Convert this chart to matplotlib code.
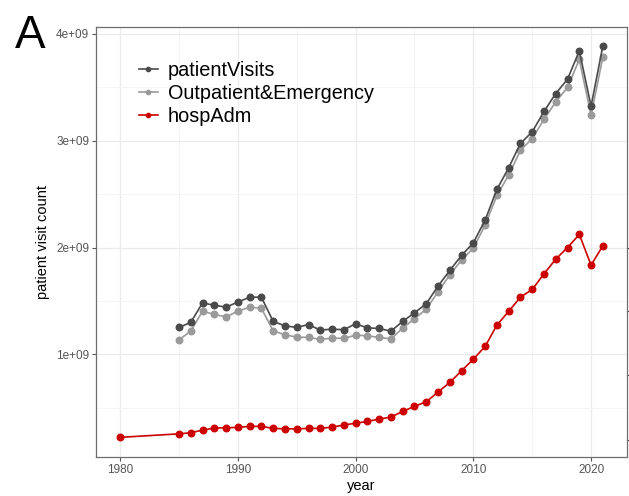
import matplotlib
matplotlib.use("Agg")
import matplotlib.pyplot as plt
from matplotlib.ticker import MultipleLocator, FuncFormatter

plt.rcParams["font.family"] = ["Liberation Sans", "DejaVu Sans"]

# values in units of 1e9
years_pv = list(range(1985, 2022))
patient_visits = [
    1.253, 1.300, 1.483, 1.460, 1.443, 1.490, 1.536, 1.536, 1.309, 1.268,
    1.253, 1.280, 1.228, 1.237, 1.231, 1.287, 1.249, 1.243, 1.218, 1.309,
    1.390, 1.474, 1.640, 1.786, 1.927, 2.045, 2.257, 2.544, 2.747, 2.975,
    3.083, 3.274, 3.442, 3.576, 3.841, 3.324, 3.888,
]
outpatient_emergency = [
    1.137, 1.218, 1.405, 1.374, 1.352, 1.405, 1.443, 1.431, 1.221, 1.184,
    1.162, 1.159, 1.141, 1.153, 1.150, 1.181, 1.175, 1.159, 1.146, 1.246,
    1.334, 1.424, 1.586, 1.745, 1.883, 1.995, 2.210, 2.488, 2.678, 2.910,
    3.021, 3.200, 3.364, 3.499, 3.761, 3.237, 3.785,
]
years_hosp = [1980] + list(range(1985, 2022))
hosp_adm = [
    0.224,
    0.257, 0.267, 0.292, 0.311, 0.314, 0.317, 0.327, 0.327, 0.308, 0.304,
    0.304, 0.308, 0.308, 0.320, 0.339, 0.357, 0.373, 0.395, 0.414, 0.467,
    0.514, 0.557, 0.648, 0.738, 0.847, 0.956, 1.075, 1.274, 1.403, 1.536,
    1.608, 1.754, 1.892, 2.001, 2.123, 1.836, 2.017,
]

fig = plt.figure(figsize=(6.29, 4.96), dpi=100)
ax = fig.add_axes([0.1526, 0.0786, 0.8442, 0.867])

ax.plot(years_pv, [v * 1e9 for v in outpatient_emergency], color="#9a9a9a",
        lw=1.2, marker="o", ms=4.7, label="Outpatient&Emergency", zorder=3)
ax.plot(years_pv, [v * 1e9 for v in patient_visits], color="#4a4a4a",
        lw=1.2, marker="o", ms=4.7, label="patientVisits", zorder=4)
ax.plot(years_hosp, [v * 1e9 for v in hosp_adm], color="#cc0000",
        lw=1.2, marker="o", ms=4.7, label="hospAdm", zorder=5)

ax.set_xlim(1977.95, 2023.05)
ax.set_ylim(0.04e9, 4.065e9)
ax.xaxis.set_major_locator(MultipleLocator(10))
ax.xaxis.set_minor_locator(MultipleLocator(5))
ax.yaxis.set_major_locator(MultipleLocator(1e9))
ax.yaxis.set_minor_locator(MultipleLocator(0.5e9))
ax.yaxis.set_major_formatter(FuncFormatter(lambda v, p: f"{int(round(v / 1e9))}e+09"))

ax.grid(True, which="major", color="#ebebeb", lw=0.9)
ax.grid(True, which="minor", color="#f4f4f4", lw=0.6)
ax.set_axisbelow(True)
for s in ax.spines.values():
    s.set_color("#6e6e6e")
    s.set_linewidth(0.9)
ax.tick_params(which="major", length=3, color="#555555", labelcolor="#555555",
               labelsize=8.5, pad=2)
ax.tick_params(which="minor", length=0)

ax.set_xlabel("year", fontsize=10.5, labelpad=2)
ax.set_ylabel("patient visit count", fontsize=10.5, labelpad=4)

handles, labels = ax.get_legend_handles_labels()
order = [1, 0, 2]
ax.legend([handles[i] for i in order], [labels[i] for i in order],
          loc="upper left", bbox_to_anchor=(0.066, 0.94), frameon=False,
          fontsize=14.3, handlelength=0.95, handletextpad=0.5,
          labelspacing=0.2, borderaxespad=0, markerscale=0.65)

# stray ticks of a cropped neighbouring panel on the right edge
ax2 = ax.twinx()
ax2.set_ylim(ax.get_ylim())
ax2.set_yticks([0.199e9, 0.807e9, 1.405e9, 2.0e9])
ax2.set_yticklabels([])
ax2.tick_params(length=3, color="#555555")
for s in ax2.spines.values():
    s.set_visible(False)

fig.text(0.024, 0.903, "A", fontsize=33, ha="left", va="baseline")

fig.savefig("out.png", dpi=100)
